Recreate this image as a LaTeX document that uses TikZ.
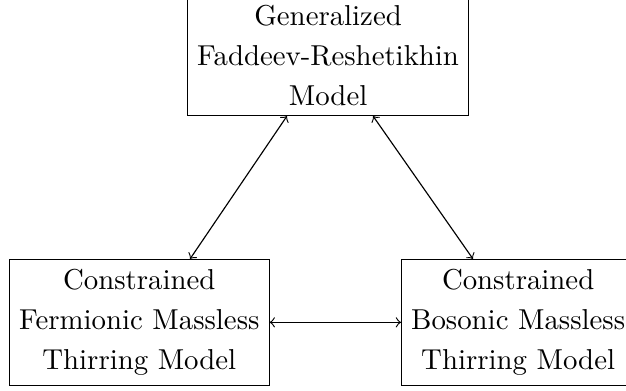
\documentclass[tikz,border=0pt]{standalone}
\usetikzlibrary{calc}
\begin{document}
\begin{tikzpicture}[x=0.3472pt,y=-0.3472pt,
  modelbox/.style={draw,align=center,font={\fontsize{10}{13.9}\selectfont}},
  link/.style={<->,>=to}]
\useasboundingbox (0,0) rectangle (626,390);
\node[modelbox,anchor=south west] (top) at (187,116) {Generalized\\Faddeev-Reshetikhin\\Model};
\node[modelbox,anchor=north west] (ferm) at (9,259) {Constrained\\Fermionic Massless\\Thirring Model};
\node[modelbox,anchor=north west] (bos) at (401,259) {Constrained\\Bosonic Massless\\Thirring Model};
\coordinate (tl) at ($(top.south west)+(100,0)$);
\coordinate (tr) at ($(top.south west)+(186,0)$);
\coordinate (fl) at ($(ferm.north west)+(181,0)$);
\coordinate (br) at ($(bos.north west)+(72,0)$);
\draw[link] (tl) -- (fl);
\draw[link] (tr) -- (br);
\draw[link] (ferm.east) -- (bos.west);
\end{tikzpicture}
\end{document}
